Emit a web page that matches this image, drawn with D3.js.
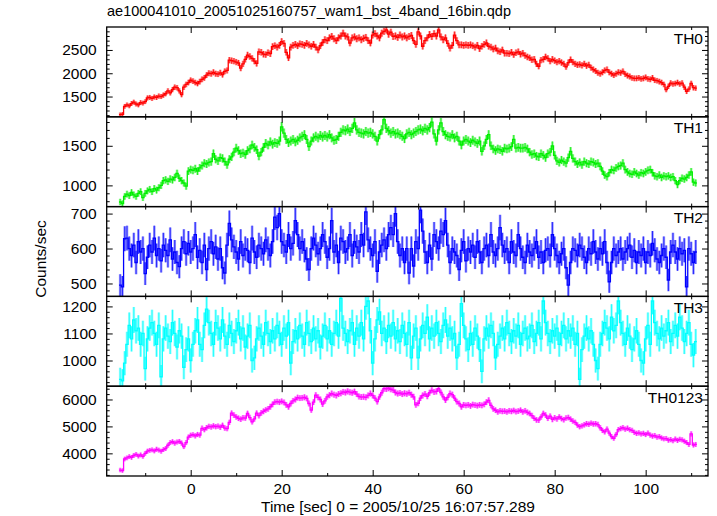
<!DOCTYPE html>
<html><head><meta charset="utf-8">
<script src="https://cdn.jsdelivr.net/npm/d3@7"></script>
<style>body{margin:0;background:#fff}svg text{font-family:"Liberation Sans",Arial,Helvetica,sans-serif;fill:#000}</style>
</head><body><svg id="c" width="717" height="516"></svg>
<script>
const title = "ae100041010_20051025160757_wam1_bst_4band_16bin.qdp";
const xLabel = "Time [sec] 0 = 2005/10/25 16:07:57.289";
const yLabel = "Counts/sec";
const binStart = -15.5, binWidth = 0.5;
const panelNames = ["TH0","TH1","TH2","TH3","TH0123"];
const panelColors = ["#ff0000","#00ee00","#0000ff","#00ffff","#ff00ff"];
const yDomains = [[1065,2993],[732,1866],[463,720],[905,1237],[3159,6493]];
const yTickValues = [[1500,2000,2500],[1000,1500],[500,600,700],[1000,1100,1200],[4000,5000,6000]];
const yMinorSteps = [100,100,20,20,200];
const xDomain = [-18.46,113.7];
const xTickValues = [0,20,40,60,80,100];
const xMinorTicks = [-10,10,30,50,70,90,110];

const th0 = [
1110,1120,1290,1320,1300,1350,1380,1340,1320,1370,
1360,1390,1470,1480,1460,1490,1480,1510,1500,1530,
1560,1620,1580,1650,1700,1690,1620,1540,1700,1760,
1800,1850,1830,1800,1780,1820,1870,1900,1960,2000,
1990,2020,1990,1980,2010,1970,2040,2060,2280,2270,
2260,2240,2220,2110,2200,2300,2390,2360,2320,2260,
2210,2460,2450,2410,2400,2440,2420,2570,2590,2560,
2600,2680,2640,2450,2330,2560,2600,2620,2590,2630,
2620,2600,2640,2610,2580,2620,2560,2500,2590,2660,
2720,2700,2760,2790,2740,2700,2760,2800,2860,2800,
2780,2650,2760,2780,2740,2760,2720,2750,2770,2700,
2650,2820,2850,2800,2760,2860,2900,2930,2840,2880,
2790,2800,2770,2820,2780,2800,2760,2790,2810,2700,
2620,2890,2800,2580,2700,2760,2830,2790,2850,2800,
2930,2780,2720,2760,2640,2540,2600,2820,2700,2610,
2610,2600,2610,2600,2610,2590,2560,2600,2530,2580,
2620,2650,2580,2560,2520,2540,2480,2460,2500,2430,
2430,2420,2450,2400,2440,2460,2410,2430,2380,2350,
2330,2290,2300,2200,2150,2280,2300,2350,2320,2260,
2300,2270,2240,2260,2230,2200,2140,2230,2290,2240,
2200,2180,2190,2170,2200,2160,2180,2120,2080,2050,
2010,1990,2020,2060,2080,2020,1990,1960,1990,2020,
2010,2040,1980,1950,1930,1900,1890,1890,1900,1880,
1890,1910,1880,1870,1900,1850,1840,1820,1800,1760,
1650,1720,1790,1770,1780,1800,1770,1790,1700,1610,
1660,1780,1690,1680];

const th1 = [
790,770,860,890,870,910,880,860,900,920,
845,900,930,950,920,960,940,970,1000,1060,
1070,1050,1080,1070,1100,1150,1090,1060,1030,990,
1180,1200,1190,1210,1180,1220,1250,1280,1270,1290,
1300,1400,1330,1310,1350,1340,1300,1260,1330,1360,
1420,1470,1440,1400,1410,1390,1440,1460,1510,1480,
1450,1370,1420,1480,1530,1510,1550,1520,1540,1530,
1560,1740,1660,1580,1540,1560,1580,1550,1570,1600,
1620,1640,1580,1490,1560,1600,1620,1600,1630,1610,
1630,1610,1640,1600,1570,1580,1620,1670,1700,1690,
1710,1680,1720,1790,1700,1670,1660,1650,1680,1660,
1670,1650,1620,1560,1640,1700,1830,1720,1690,1660,
1680,1650,1660,1640,1620,1590,1650,1670,1640,1660,
1680,1700,1710,1690,1720,1700,1730,1800,1650,1560,
1700,1790,1680,1640,1620,1610,1640,1600,1620,1560,
1510,1560,1580,1560,1540,1570,1550,1530,1560,1430,
1500,1580,1640,1500,1460,1440,1460,1450,1430,1470,
1460,1470,1490,1580,1470,1480,1470,1470,1480,1460,
1420,1390,1400,1370,1360,1400,1380,1350,1400,1420,
1500,1380,1310,1290,1320,1300,1280,1350,1430,1340,
1300,1270,1290,1260,1300,1280,1270,1300,1290,1270,
1280,1240,1180,1130,1110,1160,1200,1190,1220,1240,
1250,1280,1200,1170,1150,1140,1170,1150,1130,1160,
1150,1170,1190,1200,1160,1120,1110,1130,1100,1120,
1110,1120,1100,1110,1060,1010,1060,1090,1080,1100,
1130,1170,1040,1030];

const th2 = [
495,490,628,630,600,580,610,560,620,590,
600,528,575,610,590,630,580,600,565,610,
595,580,625,570,590,560,548,600,620,585,
615,590,600,640,575,595,560,610,540,600,
620,585,605,570,600,545,530,610,672,625,
605,590,570,620,580,600,595,560,630,590,
575,610,600,585,625,600,580,620,690,660,
700,620,610,590,640,600,615,680,640,600,
620,595,570,540,600,630,610,585,600,640,
620,575,600,680,590,610,560,630,620,590,
600,640,580,620,605,590,640,610,705,625,
600,580,620,535,590,610,625,600,640,660,
640,700,620,580,600,560,600,530,600,550,
620,600,710,650,590,560,610,570,640,620,
600,650,640,680,610,560,600,590,580,540,
595,620,565,600,590,610,575,620,590,560,
600,610,580,640,590,580,600,660,610,590,
600,560,620,590,580,640,600,575,560,610,
590,580,600,620,575,590,560,595,600,580,
640,600,580,560,585,600,545,495,560,600,
595,580,610,600,575,560,600,585,620,590,
570,600,585,620,560,505,560,600,580,590,
600,570,590,600,610,575,595,560,590,580,
600,560,590,580,615,595,570,560,580,600,
575,510,590,610,590,570,600,585,595,490,
600,585,560,590];

const th3 = [
930,925,990,1060,1130,1080,1150,1110,1120,1060,
1100,970,1080,1120,1140,1100,1060,1130,940,1080,
1120,1090,1070,1140,1100,1050,1110,1090,975,1040,
1080,1000,1060,1110,1150,1060,1040,1130,1190,1140,
1100,1060,1140,1120,1080,1150,1090,1060,1130,1100,
1070,1110,1140,1080,1120,1050,1090,1130,1000,1010,
1080,1120,1090,1060,1140,1100,1070,1110,1080,1130,
1100,1060,1120,1090,1140,990,1070,1110,1080,1130,
1090,1060,1140,1100,1070,1120,1080,1110,1050,1090,
1130,1080,1110,1060,1100,1140,1090,1230,1120,1100,
1070,1110,1140,1060,1120,1090,1140,1080,1200,1220,
1110,990,1080,1150,1180,1100,1120,1070,1130,1090,
1140,1080,1110,1070,1130,1100,1060,1140,1010,1090,
1120,1010,1080,1130,1100,1160,1080,1120,1090,1140,
1100,1070,1130,1150,1090,1120,1080,1100,1010,1060,
1210,1130,1080,1040,1100,1060,1120,1090,1040,960,
1080,1120,1090,1130,1100,1010,1060,1090,1120,1080,
1140,1100,1070,1110,1090,1130,1060,1100,1120,1080,
1090,1130,1070,1100,1140,1080,1220,1140,1100,1070,
1110,1090,1120,1060,1100,1130,1080,1110,1090,1120,
1060,1100,930,1040,1090,1120,1080,1110,1060,1000,
970,1060,1100,1140,1120,1080,1160,1110,1130,1220,
1140,1100,1060,1120,1090,1040,1080,1110,1060,1000,
990,1080,1130,1060,1220,1140,1100,1080,1120,1090,
1110,1140,1070,1100,1130,1090,1160,1120,1070,1100,
1140,1060,1020,1070];

const th0123 = [
3380,3360,3790,3830,3880,3850,3920,3960,3900,3940,
3890,4000,4080,4110,4130,4090,4150,4120,4080,4140,
4180,4300,4400,4430,4380,4420,4440,4380,4250,4400,
4600,4670,4690,4650,4700,4680,4930,4880,4950,5000,
4980,5020,4990,5010,4970,5040,4940,4920,5150,5490,
5420,5350,5300,5270,5320,5310,5480,5330,5170,5280,
5490,5400,5500,5560,5610,5650,5730,5820,5900,5920,
5900,5930,5890,5800,5730,5850,5950,6000,6070,6050,
6060,6080,6040,5850,5610,5900,6160,6080,6000,5830,
5950,6100,6160,6220,6180,6150,6200,6230,6280,6260,
6300,6270,6250,6290,6200,6110,6090,6100,6080,6150,
6220,6150,6050,5920,6100,6250,6400,6390,6420,6380,
6350,6260,6220,6240,6200,6230,6210,6250,6180,6100,
5800,5860,6050,6150,6200,6120,6250,6340,6280,6300,
6400,6260,6100,5980,6080,6220,6180,6050,5920,5850,
5730,5800,5780,5800,5760,5810,5790,5770,5800,5780,
5820,5900,5970,5780,5650,5600,5540,5580,5560,5570,
5540,5580,5560,5590,5550,5570,5600,5540,5580,5520,
5480,5400,5300,5240,5230,5350,5480,5420,5300,5380,
5260,5320,5280,5350,5290,5250,5310,5330,5270,5200,
5150,5050,4990,5020,5060,5100,5080,5120,5090,5100,
5070,4950,4850,4800,4900,4750,4620,4560,4700,4880,
4920,4950,4900,4930,4880,4850,4780,4740,4760,4720,
4740,4700,4750,4680,4640,4660,4600,4620,4570,4540,
4550,4490,4510,4470,4530,4480,4520,4500,4450,4400,
4330,4720,4310,4330];

const series = [th0, th1, th2, th3, th0123];

// ---------- drawing ----------
const left = 106.7, right = 708, top0 = 27, bottom = 476;
const ph = (bottom - top0) / series.length;
const FS = 15.5;
const svg = d3.select("#c");
const x = d3.scaleLinear().domain(xDomain).range([left, right]);

svg.append("text").attr("x", 107).attr("y", 16).attr("font-size", 14.5).text(title);

series.forEach((vals, i) => {
  const y0 = top0 + i * ph, y1 = y0 + ph;
  const color = panelColors[i];
  const y = d3.scaleLinear().domain(yDomains[i]).range([y1, y0]);
  const g = svg.append("g");
  const clipId = "clip" + i;
  svg.append("clipPath").attr("id", clipId).append("rect")
    .attr("x", left).attr("y", y0).attr("width", right - left).attr("height", ph);
  const data = vals.map((v, j) => ({ t: binStart + j * binWidth, v, e: Math.sqrt(v / binWidth) }));
  const dg = g.append("g").attr("clip-path", `url(#${clipId})`);
  dg.selectAll("line.band").data(data).join("line").attr("class", "band")
    .attr("x1", d => x(d.t)).attr("x2", d => x(d.t))
    .attr("y1", d => y(d.v - d.e)).attr("y2", d => y(d.v + d.e))
    .attr("stroke", color).attr("stroke-width", 2.6).attr("stroke-opacity", 0.4);
  dg.selectAll("line.eb").data(data).join("line").attr("class", "eb")
    .attr("x1", d => x(d.t)).attr("x2", d => x(d.t))
    .attr("y1", d => y(d.v - d.e)).attr("y2", d => y(d.v + d.e))
    .attr("stroke", color).attr("stroke-width", 0.9).attr("stroke-opacity", 0.85);
  const pts = data.flatMap(d => [[d.t - binWidth / 2, d.v], [d.t + binWidth / 2, d.v]]);
  dg.append("path").attr("d", d3.line().x(p => x(p[0])).y(p => y(p[1]))(pts))
    .attr("fill", "none").attr("stroke", color).attr("stroke-width", 1.3);

  // y axis ticks
  const dom = yDomains[i], st = yMinorSteps[i];
  const minor = d3.range(Math.ceil(dom[0] / st) * st, dom[1], st).filter(v => !yTickValues[i].includes(v));
  const axL = g.append("g").attr("transform", `translate(${left},0)`)
    .call(d3.axisLeft(y).tickValues(yTickValues[i]).tickSizeInner(-6).tickSizeOuter(0).tickPadding(10).tickFormat(d3.format("d")));
  axL.selectAll("text").attr("font-size", FS).attr("font-family", '"Liberation Sans",Arial,sans-serif');
  g.append("g").attr("transform", `translate(${left},0)`)
    .call(d3.axisLeft(y).tickValues(minor).tickSize(-3).tickFormat(""));
  g.append("g").attr("transform", `translate(${right},0)`)
    .call(d3.axisRight(y).tickValues(yTickValues[i]).tickSize(-6).tickFormat(""));
  g.append("g").attr("transform", `translate(${right},0)`)
    .call(d3.axisRight(y).tickValues(minor).tickSize(-3).tickFormat(""));
  // x ticks top/bottom
  g.append("g").attr("transform", `translate(0,${y0})`)
    .call(d3.axisTop(x).tickValues(xTickValues).tickSize(-6).tickFormat(""));
  g.append("g").attr("transform", `translate(0,${y0})`)
    .call(d3.axisTop(x).tickValues(xMinorTicks).tickSize(-3).tickFormat(""));
  const axB = g.append("g").attr("transform", `translate(0,${y1})`)
    .call(d3.axisBottom(x).tickValues(xTickValues).tickSizeInner(-6).tickSizeOuter(0).tickPadding(7)
      .tickFormat(i === series.length - 1 ? d3.format("d") : ""));
  axB.selectAll("text").attr("font-size", FS).attr("font-family", '"Liberation Sans",Arial,sans-serif');
  g.append("g").attr("transform", `translate(0,${y1})`)
    .call(d3.axisBottom(x).tickValues(xMinorTicks).tickSize(-3).tickFormat(""));
  g.selectAll(".domain").remove();
  g.selectAll(".tick line").attr("stroke", "#000").attr("stroke-width", 1);

  g.append("rect").attr("x", left).attr("y", y0).attr("width", right - left).attr("height", ph)
    .attr("fill", "none").attr("stroke", "#000").attr("stroke-width", 1.3);
  g.append("text").attr("x", right - 5).attr("y", y0 + 16.5).attr("text-anchor", "end")
    .attr("font-size", FS).text(panelNames[i]);
});

svg.append("text").attr("transform", `translate(46,259) rotate(-90)`)
  .attr("text-anchor", "middle").attr("font-size", FS).text(yLabel);
svg.append("text").attr("x", 261).attr("y", 512).attr("text-anchor", "start")
  .attr("font-size", FS).text(xLabel);
</script>
</body></html>
